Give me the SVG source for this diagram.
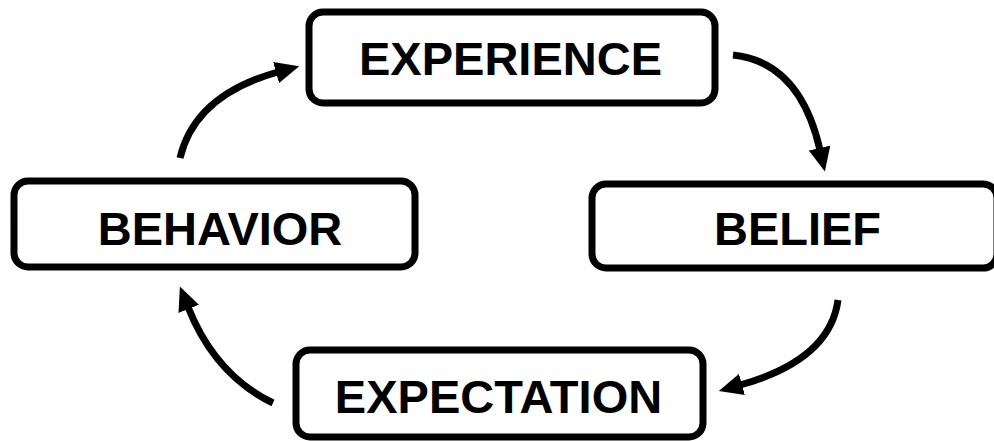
<svg xmlns="http://www.w3.org/2000/svg" width="994" height="441" viewBox="0 0 994 441">
<style>
.box{fill:#fff;stroke:#000;stroke-width:7}
.lbl{font-family:"Liberation Sans",Arial,sans-serif;font-weight:bold;font-size:47px;text-anchor:middle;fill:#000}
.arr{fill:none;stroke:#000;stroke-width:7;marker-end:url(#ah)}
</style>
<defs>
<marker id="ah" markerUnits="userSpaceOnUse" markerWidth="24" markerHeight="22" refX="2" refY="11" orient="auto" viewBox="0 0 24 22">
<path d="M0,0 L24,11 L0,22 z" fill="#000"/>
</marker>
</defs>
<rect width="994" height="441" fill="#fff"/>
<g id="connectors">
<path class="arr" d="M180,158 Q195,95 278,72"/>
<path class="arr" d="M733,55 Q800,62 820,150"/>
<path class="arr" d="M838,300 Q830,360 740,385"/>
<path class="arr" d="M273,403 Q215,375 188,307"/>
</g>
<g id="experience">
<rect class="box" x="309" y="12" width="406" height="91" rx="14"/>
<text class="lbl" x="510.5" y="75">EXPERIENCE</text>
</g>
<g id="belief">
<rect class="box" x="592" y="184" width="405" height="84" rx="14"/>
<text class="lbl" x="797.5" y="245">BELIEF</text>
</g>
<g id="behavior">
<rect class="box" x="14" y="181" width="401" height="86" rx="14"/>
<text class="lbl" x="220" y="245">BEHAVIOR</text>
</g>
<g id="expectation">
<rect class="box" x="296" y="350" width="407" height="87" rx="14"/>
<text class="lbl" x="498.5" y="413">EXPECTATION</text>
</g>
</svg>
